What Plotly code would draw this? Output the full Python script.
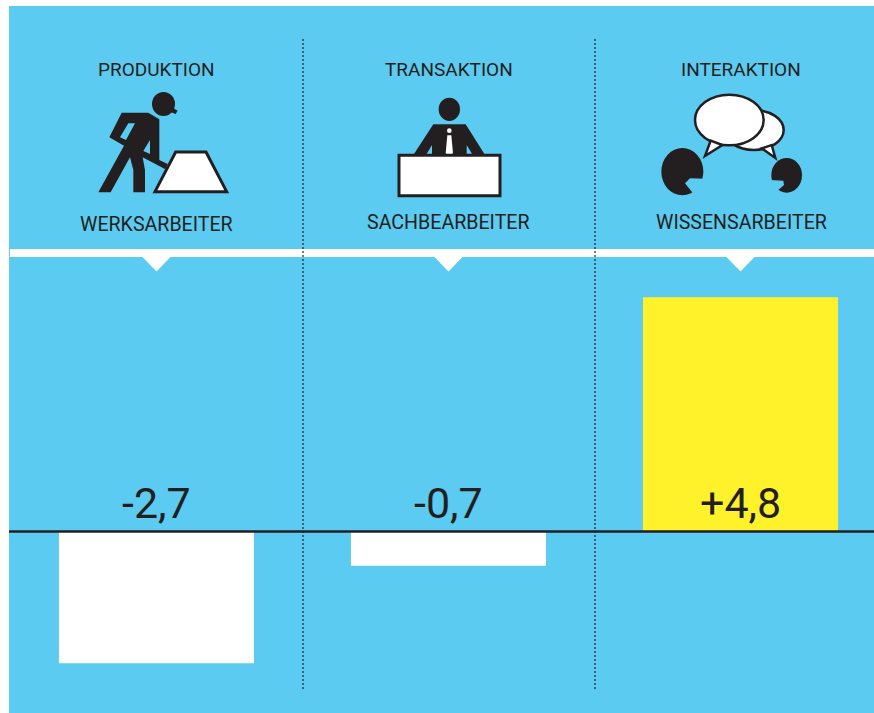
import plotly.graph_objects as go

categories = ["Werksarbeiter", "Sachbearbeiter", "Wissensarbeiter"]
values = [-2.7, -0.7, 4.8]
value_labels = ["-2,7", "-0,7", "+4,8"]
headers = ["PRODUKTION", "TRANSAKTION", "INTERAKTION"]
roles = ["WERKSARBEITER", "SACHBEARBEITER", "WISSENSARBEITER"]

W, H = 874, 713
BLUE = "#5BCBF1"
INK = "#231F20"
FONT = "Roboto"


def px(x, y):
    return f"{x / W:.5f},{1 - y / H:.5f}"


def poly(points, fill, line=None, lw=0, closed=True):
    d = "M" + " L".join(px(x, y).replace(",", " ") for x, y in points) + (" Z" if closed else "")
    return dict(type="path", path=d, xref="paper", yref="paper", fillcolor=fill,
                line=dict(color=line or fill, width=lw), layer="above")


def ell(cx, cy, rx, ry, fill, line=None, lw=0):
    return dict(type="circle", xref="paper", yref="paper",
                x0=(cx - rx) / W, x1=(cx + rx) / W,
                y0=1 - (cy + ry) / H, y1=1 - (cy - ry) / H,
                fillcolor=fill, line=dict(color=line or fill, width=lw), layer="above")


def z(points, ox, oy):
    return [(ox + x / 3, oy + y / 3) for x, y in points]


shapes = []

# white band, pointers
shapes.append(poly([(10, 249), (874, 249), (874, 257), (10, 257)], "#FFFFFF"))
for c in (156.5, 448.5, 740.5):
    shapes.append(poly([(c - 15, 256), (c + 15, 256), (c, 271.5)], "#FFFFFF"))

# dotted separators
for x in (303, 595):
    shapes.append(dict(type="line", xref="paper", yref="paper", x0=x / W, x1=x / W,
                       y0=1 - 39 / H, y1=1 - 690 / H, layer="above",
                       line=dict(color="#222222", width=1.2, dash="2px,2px")))

# zero line above the bars
shapes.append(dict(type="line", xref="x domain", yref="y", x0=0, x1=1, y0=0, y1=0,
                   layer="above", line=dict(color=INK, width=2.5)))

# worker
shapes.append(ell(163.5, 104, 11.5, 12, INK))
shapes.append(poly(z([(515, 322), (533, 332), (527, 342), (510, 335)], 0, 0), INK))
shapes.append(poly(z([(365, 338), (445, 338), (478, 358), (478, 480), (503, 492), (496, 508),
                      (428, 472), (435, 510), (435, 577), (400, 577), (400, 510), (390, 472),
                      (332, 577), (295, 577), (372, 437), (328, 412)], 0, 0), INK))
shapes.append(poly(z([(385, 370), (405, 370), (378, 420), (360, 412)], 0, 0), BLUE))
shapes.append(poly(z([(450, 420), (430, 453), (450, 462)], 0, 0), BLUE))
shapes.append(poly(z([(527, 456), (618, 456), (680, 575), (465, 575)], 0, 0), "#FFFFFF", INK, 3))

# clerk
ox, oy = 300, 30
shapes.append(ell(ox + 448 / 3, oy + 238 / 3, 32 / 3, 35 / 3, INK))
shapes.append(poly(z([(400, 283), (497, 283), (557, 378), (338, 378)], ox, oy), INK))
shapes.append(poly(z([(396, 345), (378, 375), (396, 375)], ox, oy), BLUE))
shapes.append(poly(z([(500, 345), (518, 375), (500, 375)], ox, oy), BLUE))
shapes.append(ell(ox + 448 / 3, oy + 302 / 3, 7 / 3, 7 / 3, "#FFFFFF"))
shapes.append(poly(z([(442, 316), (454, 316), (459, 370), (448, 378), (437, 370)], ox, oy), "#FFFFFF"))
shapes.append(poly(z([(297, 376), (600, 376), (600, 497), (297, 497)], ox, oy), "#FFFFFF", INK, 3))

# talkers
ox, oy = 590, 30
shapes.append(ell(ox + 492 / 3, oy + 300 / 3, 89 / 3, 60 / 3, "#FFFFFF", INK, 2.5))
shapes.append(poly(z([(515, 355), (556, 384), (545, 345)], ox, oy), "#FFFFFF", INK, 2.5))
shapes.append(ell(ox + 492 / 3, oy + 300 / 3, 80 / 3, 52 / 3, "#FFFFFF"))
shapes.append(ell(ox + 418 / 3, oy + 270 / 3, 103 / 3, 76 / 3, "#FFFFFF", INK, 2.5))
shapes.append(poly(z([(362, 332), (345, 378), (397, 345)], ox, oy), "#FFFFFF", INK, 2.5))
shapes.append(ell(ox + 420 / 3, oy + 272 / 3, 94 / 3, 66 / 3, "#FFFFFF"))
shapes.append(ell(ox + 277 / 3, oy + 425 / 3, 63 / 3, 71 / 3, INK))
shapes.append(poly(z([(345, 446), (300, 445), (285, 460), (309, 490), (345, 480)], ox, oy), BLUE))
shapes.append(ell(ox + 590 / 3, oy + 436 / 3, 46 / 3, 52 / 3, INK))
shapes.append(poly(z([(540, 450), (580, 452), (582, 465), (565, 480), (540, 480)], ox, oy), BLUE))

annotations = []
for c, head, role, y_head, y_role in zip((156.5, 448.5, 741), headers, roles,
                                         (70, 70, 70), (224, 223, 223)):
    for t, y, s in ((head, y_head, 19), (role, y_role, 19.6)):
        annotations.append(dict(text=t, xref="paper", yref="paper", x=c / W, y=1 - y / H,
                                xanchor="center", yanchor="middle", showarrow=False,
                                font=dict(family=FONT, size=s, color=INK)))
for cat, lab in zip(categories, value_labels):
    annotations.append(dict(text=lab, xref="x", yref="y", x=cat, y=0, yanchor="bottom",
                            xanchor="center", yshift=1, showarrow=False,
                            font=dict(family=FONT, size=43, color=INK)))

fig = go.Figure(go.Bar(x=categories, y=values, width=0.668,
                       marker=dict(color=["#FFF22A" if v > 0 else "#FFFFFF" for v in values],
                                   line=dict(width=0)),
                       hoverinfo="skip"))
fig.update_layout(
    width=W, height=H, margin=dict(l=0, r=0, t=0, b=0), autosize=False,
    paper_bgcolor="#FFFFFF", plot_bgcolor=BLUE, showlegend=False,
    shapes=shapes, annotations=annotations,
    xaxis=dict(domain=[9 / W, 1], range=[-0.505, 2.4572], type="category",
               visible=False, categoryorder="array", categoryarray=categories),
    yaxis=dict(domain=[0, 1 - 6 / H], range=[-3.72, 10.768], showgrid=False,
               showticklabels=False, ticks="", zeroline=False),
)
fig.write_html("out.html", config=dict(displayModeBar=False),
               post_script="document.body.style.margin='0';")
